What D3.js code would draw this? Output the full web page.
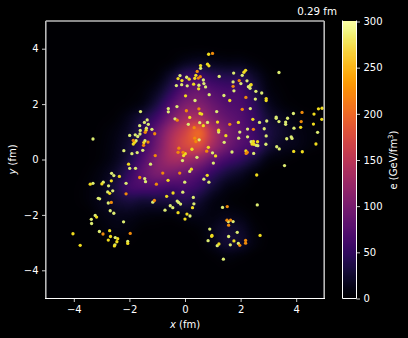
<!DOCTYPE html>
<html>
<head>
<meta charset="utf-8">
<script src="https://cdn.jsdelivr.net/npm/d3@7"></script>
<style>
html, body { margin: 0; padding: 0; background: #000; }
text { font-family: "DejaVu Sans", sans-serif; fill: #fff; }
</style>
</head>
<body>
<script>
// energy density, every 0.5 fm
var gridX = [-5,-4.5,-4,-3.5,-3,-2.5,-2,-1.5,-1,-.5,0,.5,1,1.5,2,2.5,3,3.5,4,4.5,5];
var gridY = [5,4.5,4,3.5,3,2.5,2,1.5,1,.5,0,-.5,-1,-1.5,-2,-2.5,-3,-3.5,-4,-4.5,-5];
var heat = [
  [0,0,0,0,0,0,0,0,0,0,0,0,0,0,0,0,0,0,0,0,0],
  [0,0,0,0,0,0,0,0,0,0,0,0,0,0,0,0,0,0,0,0,0],
  [0,0,0,0,0,0,0,0,0,1,2,3,2,1,1,0,0,0,0,0,0],
  [0,0,0,0,0,0,0,0,1,5,15,20,15,12,12,6,1,0,0,0,0],
  [0,0,0,0,0,0,0,1,6,25,50,55,45,40,40,22,6,1,0,0,0],
  [0,0,0,0,0,0,1,5,18,45,75,85,70,62,60,35,10,3,0,0,0],
  [0,0,0,0,0,1,4,12,35,70,100,105,88,72,65,45,18,6,2,0,0],
  [0,0,0,0,1,4,15,35,60,98,130,135,105,85,72,52,28,16,8,4,1],
  [0,0,0,0,3,9,22,48,85,130,165,195,140,100,78,55,34,22,12,7,3],
  [0,0,0,1,4,12,28,55,95,140,170,175,130,95,72,58,30,16,12,6,2],
  [0,0,0,1,5,15,35,70,105,130,130,115,85,62,48,30,10,5,2,0,0],
  [0,0,0,3,10,24,50,80,100,98,88,72,50,32,20,7,1,0,0,0,0],
  [0,0,1,5,13,32,58,65,65,60,62,50,28,12,6,1,0,0,0,0,0],
  [0,0,1,5,14,25,32,28,30,32,38,26,11,5,2,0,0,0,0,0,0],
  [0,0,0,1,9,14,14,10,8,8,13,13,9,12,9,2,0,0,0,0,0],
  [0,0,0,0,5,9,7,2,1,0,2,5,14,24,20,6,1,0,0,0,0],
  [0,0,0,0,1,2,2,0,0,0,0,2,13,26,22,8,1,0,0,0,0],
  [0,0,0,0,0,0,0,0,0,0,0,0,3,8,5,1,0,0,0,0,0],
  [0,0,0,0,0,0,0,0,0,0,0,0,0,1,0,0,0,0,0,0,0],
  [0,0,0,0,0,0,0,0,0,0,0,0,0,0,0,0,0,0,0,0,0],
  [0,0,0,0,0,0,0,0,0,0,0,0,0,0,0,0,0,0,0,0,0]
];

// points as x, y in fm, one list per colour
var palePoints = [[-1.60,1.73],[-3.31,0.74],[-1.36,1.43],[-1.46,1.34],[-1.32,1.27],[-1.63,1.22],[-1.61,1.05],[-1.39,1.13],[-1.19,1.09],
  [-1.99,0.87],[-1.79,0.89],[-1.70,0.83],[-1.62,0.92],[-1.76,0.68],[-1.44,0.68],[-1.52,0.33],[-2.20,0.32],[-1.91,0.21],[-1.72,0.25],
  [-0.18,3.03],[0.06,2.97],[-0.31,2.67],[-0.12,2.70],[0.08,2.66],[-0.60,1.84],[-0.60,1.72],[-0.29,1.91],[-0.36,1.47],[0.12,1.27],[-0.09,-0.04],
  [0.56,3.29],[0.66,2.87],[0.68,2.74],[0.50,2.68],[0.74,2.62],[0.36,2.13],[0.87,2.34],[1.23,3.00],[1.75,3.12],[1.73,2.80],[1.76,2.48],
  [2.01,2.74],[2.06,3.04],[2.23,2.84],[2.28,2.63],[2.35,2.68],[2.34,2.57],[2.55,2.46],[2.76,2.40],[3.38,3.14],[1.40,2.31],[2.53,2.18],
  [2.35,1.84],[1.14,1.73],[0.81,1.34],[0.53,1.33],[1.21,0.99],[1.97,0.99],[2.25,1.10],[2.68,1.34],[2.94,1.39],[2.85,1.11],[3.28,1.53],
  [3.28,1.49],[3.38,1.37],[3.69,1.49],[3.62,1.35],[3.62,1.27],[3.90,1.66],[3.92,1.13],[4.77,0.98],[3.66,0.75],[3.82,0.82],[3.85,0.76],
  [2.92,0.85],[1.93,0.77],[2.25,0.82],[1.41,0.62],[2.38,0.64],[2.56,0.51],[2.62,0.50],[2.91,0.55],[3.30,0.46],[3.39,0.38],[2.47,0.22],
  [1.69,0.27],[0.99,0.24],[0.43,0.08],[0.51,0.71],[-1.99,-0.32],[-1.78,-0.32],[-1.24,-0.17],[-1.45,-0.69],[-1.42,-0.80],[-0.01,-0.82],
  [0.17,-0.43],[-2.64,-0.50],[-2.56,-0.58],[-2.94,-0.82],[-3.31,-0.86],[-2.75,-0.95],[-2.12,-0.86],[-2.60,-1.13],[-2.78,-1.17],[-0.08,-1.18],
  [-1.16,-1.54],[-3.12,-1.40],[-3.07,-1.42],[-2.76,-1.57],[-0.28,-1.50],[-0.23,-1.55],[-0.16,-1.61],[-0.53,-1.67],[-0.44,-1.74],[-0.72,-1.83],
  [0.18,-2.04],[-2.69,-1.85],[-2.56,-1.94],[-3.23,-2.02],[-3.37,-2.16],[-3.36,-2.31],[-2.21,-2.25],[-3.08,-2.60],[-2.51,-2.82],[-2.06,-2.96],
  [-2.52,-3.08],[1.02,-0.13],[0.68,-0.71],[0.86,-0.82],[0.30,-1.37],[0.32,-1.60],[1.35,-1.73],[3.58,-0.22],[2.60,-1.64],[1.56,-2.24],[1.73,-2.24],
  [0.89,-2.51],[1.88,-2.63],[1.57,-2.78],[0.83,-2.93],[1.92,-3.03],[1.63,-3.08],[1.16,-3.11],[1.38,-3.60]];
var yellowPoints = [[-1.40,1.06],[-1.81,0.62],[-1.86,0.56],[-1.48,0.61],[-0.25,2.92],[-0.11,2.85],[0.15,2.90],[0.02,2.30],[0.17,1.52],[0.01,0.21],[-0.05,0.14],
  [0.85,3.80],[0.56,3.39],[0.81,3.44],[0.86,3.38],[0.39,3.04],[0.35,2.93],[0.31,2.72],[0.49,2.55],[2.12,3.15],[2.18,3.22],[2.38,2.70],[1.61,2.13],
  [2.92,2.20],[2.92,2.13],[0.54,1.66],[0.60,1.64],[0.66,1.22],[1.17,1.35],[1.92,1.34],[1.21,1.06],[2.44,1.45],[4.16,1.16],[4.80,1.83],[4.93,1.85],
  [4.64,1.64],[4.92,1.45],[4.62,1.28],[4.71,0.56],[1.47,0.86],[2.46,0.65],[2.41,0.56],[2.48,0.55],[2.61,0.64],[3.91,0.29],[4.22,0.28],[2.19,0.31],
  [0.84,0.44],[1.10,0.13],[0.25,0.37],[-2.03,-0.17],[-0.61,-0.75],[-2.36,-0.61],[-2.65,-0.77],[-2.99,-0.88],[-3.41,-0.89],[-2.71,-1.22],[-0.66,-1.33],
  [-0.43,-1.21],[-0.25,-1.92],[0.07,-1.97],[0.00,-2.15],[-3.18,-2.08],[-2.71,-2.57],[-4.03,-2.68],[-2.68,-2.78],[-2.42,-2.86],[-2.76,-2.91],[-2.45,-2.97],
  [-2.06,-3.03],[-2.54,-3.12],[-3.77,-3.10],[0.23,-0.35],[0.80,-0.57],[0.27,-1.74],[2.58,-0.56],[0.97,-2.74],[0.96,-2.77],[2.70,-2.74],[1.76,-2.94],[1.22,-3.05]];
var orangePoints = [[-1.43,0.98],[-1.09,0.93],[-1.86,0.69],[-1.33,0.63],[-1.49,0.51],[-1.07,0.14],[0.05,1.76],[-0.28,1.42],[-0.22,0.41],[-0.25,0.26],[-0.07,0.26],
  [0.99,3.83],[0.44,3.18],[0.48,2.94],[0.55,2.99],[1.95,2.85],[1.73,2.64],[2.19,2.24],[2.06,1.81],[0.50,1.83],[0.33,1.15],[1.61,1.27],[2.46,1.09],
  [4.21,1.70],[4.18,1.37],[2.24,0.26],[2.20,0.22],[0.78,0.30],[0.35,0.77],[0.39,0.65],[-0.80,-0.49],[-0.19,-0.49],[-1.63,-0.65],[-1.03,-0.89],
  [-2.12,-1.24],[-1.10,-1.48],[-2.65,-1.55],[-2.95,-2.69],[-1.97,-2.67],[1.52,-1.70],[1.51,-2.19],[1.64,-2.19],[1.57,-2.37],[2.18,-2.92],[2.18,-3.02],[1.97,-3.10]];
var xTicks = [-4,-2,0,2,4];
var yTicks = [-4,-2,0,2,4];
var barTicks = [0,50,100,150,200,250,300];

var left = 46, right = 324, top_ = 21, bottom = 298;

var svg = d3.select("body").append("svg")
  .attr("width", 408).attr("height", 338)
  .style("display", "block");

var x = d3.scaleLinear().domain([-5, 5]).range([left, right]);
var y = d3.scaleLinear().domain([-5, 5]).range([bottom, top_]);
var e = d3.scaleLinear().domain([0, 300]).range([bottom, top_]);
var color = function(v) { return d3.interpolateInferno(Math.max(0, Math.min(1, v / 300))); };

// smooth the coarse grid into an image (imshow with bicubic, more or less)
function cubic(a, b, c, d, t) {
  return b + .5 * t * (c - a + t * (2 * a - 5 * b + 4 * c - d + t * (3 * (b - c) + d - a)));
}
function at(r, c) {
  r = Math.max(0, Math.min(gridY.length - 1, r));
  c = Math.max(0, Math.min(gridX.length - 1, c));
  return heat[r][c];
}
function sample(gx, gy) {
  var c = Math.floor(gx), r = Math.floor(gy), rows = [];
  for (var i = -1; i <= 2; i++) {
    rows.push(cubic(at(r + i, c - 1), at(r + i, c), at(r + i, c + 1), at(r + i, c + 2), gx - c));
  }
  return Math.max(0, cubic(rows[0], rows[1], rows[2], rows[3], gy - r));
}
var w = right - left, h = bottom - top_;
var canvas = document.createElement("canvas");
canvas.width = w; canvas.height = h;
var ctx = canvas.getContext("2d");
var gridCol = d3.scaleLinear().domain([gridX[0], gridX[gridX.length - 1]]).range([0, gridX.length - 1]);
var gridRow = d3.scaleLinear().domain([gridY[0], gridY[gridY.length - 1]]).range([0, gridY.length - 1]);
for (var py = 0; py < h; py++) {
  for (var px = 0; px < w; px++) {
    ctx.fillStyle = color(sample(gridCol(x.invert(left + px + .5)), gridRow(y.invert(top_ + py + .5))));
    ctx.fillRect(px, py, 1, 1);
  }
}
svg.append("image")
  .attr("x", left).attr("y", top_)
  .attr("width", w).attr("height", h)
  .attr("href", canvas.toDataURL());

// points
function dots(list, fill) {
  svg.append("g").selectAll("circle").data(list).join("circle")
    .attr("cx", function(d) { return x(d[0]); })
    .attr("cy", function(d) { return y(d[1]); })
    .attr("r", 1.65)
    .attr("fill", fill);
}
dots(palePoints, "#dcec72");
dots(yellowPoints, "#f0dc1e");
dots(orangePoints, "#f08a0a");

// frame
var frame = [
  [left - .2, top_, right + .2, top_, "#b8b8b8", 1.6],
  [left - .2, top_, left - .2, bottom, "#b8b8b8", 1.6],
  [right + .2, top_, right + .2, bottom, "#b8b8b8", 1.6],
  [left - 1, bottom + .5, right + 1, bottom + .5, "#fff", 1]
];
svg.append("g").selectAll("line").data(frame).join("line")
  .attr("x1", function(d) { return d[0]; }).attr("y1", function(d) { return d[1]; })
  .attr("x2", function(d) { return d[2]; }).attr("y2", function(d) { return d[3]; })
  .attr("stroke", function(d) { return d[4]; }).attr("stroke-width", function(d) { return d[5]; });

function styleAxis(g) {
  g.select(".domain").remove();
  g.selectAll("line").attr("stroke", "#fff").attr("stroke-width", .8);
  g.selectAll("text").attr("font-size", 10).attr("fill", "#fff")
    .attr("font-family", "DejaVu Sans");
}
var fmt = function(d) { return String(d).replace("-", "\u2212"); };
svg.append("g").attr("transform", "translate(0," + (bottom + .5) + ")")
  .call(d3.axisBottom(x).tickValues(xTicks).tickFormat(fmt).tickSize(3.5).tickPadding(3.5))
  .call(styleAxis);
svg.append("g").attr("transform", "translate(" + (left - .5) + ",0)")
  .call(d3.axisLeft(y).tickValues(yTicks).tickFormat(fmt).tickSize(3.5).tickPadding(3.5))
  .call(styleAxis);

// colour bar
var barX = 342.5, barW = 14;
var barRows = d3.range(top_, bottom);
svg.append("g").selectAll("rect").data(barRows).join("rect")
  .attr("x", barX).attr("y", function(d) { return d; })
  .attr("width", barW).attr("height", 1.2)
  .attr("fill", function(d) { return color(e.invert(d + .5)); });
svg.append("path")
  .attr("d", "M" + barX + "," + (top_ - .5) + "V" + (bottom + .5) + "H" + (barX + barW) + "V" + (top_ - .5))
  .attr("fill", "none").attr("stroke", "#fff").attr("stroke-width", 1);
svg.append("g").attr("transform", "translate(" + (barX + barW) + ",.5)")
  .call(d3.axisRight(e).tickValues(barTicks).tickSize(3.5).tickPadding(3.5))
  .call(styleAxis);

// labels
svg.append("text").attr("x", 337).attr("y", 15).attr("text-anchor", "end")
  .attr("font-size", 10.3).text("0.29 fm");

var xLabel = svg.append("text").attr("x", 185).attr("y", 328)
  .attr("text-anchor", "middle").attr("font-size", 10);
xLabel.append("tspan").attr("font-style", "italic").text("x");
xLabel.append("tspan").text(" (fm)");

var yLabel = svg.append("text").attr("transform", "translate(16,159.5) rotate(-90)")
  .attr("text-anchor", "middle").attr("font-size", 10);
yLabel.append("tspan").attr("font-style", "italic").text("y");
yLabel.append("tspan").text(" (fm)");

var eLabel = svg.append("text").attr("transform", "translate(397,160) rotate(-90)")
  .attr("text-anchor", "middle").attr("font-size", 10);
eLabel.append("tspan").text("e (GeV/fm");
eLabel.append("tspan").attr("font-size", 7).attr("dy", -4).text("3");
eLabel.append("tspan").attr("dy", 4).text(")");
</script>
</body>
</html>
